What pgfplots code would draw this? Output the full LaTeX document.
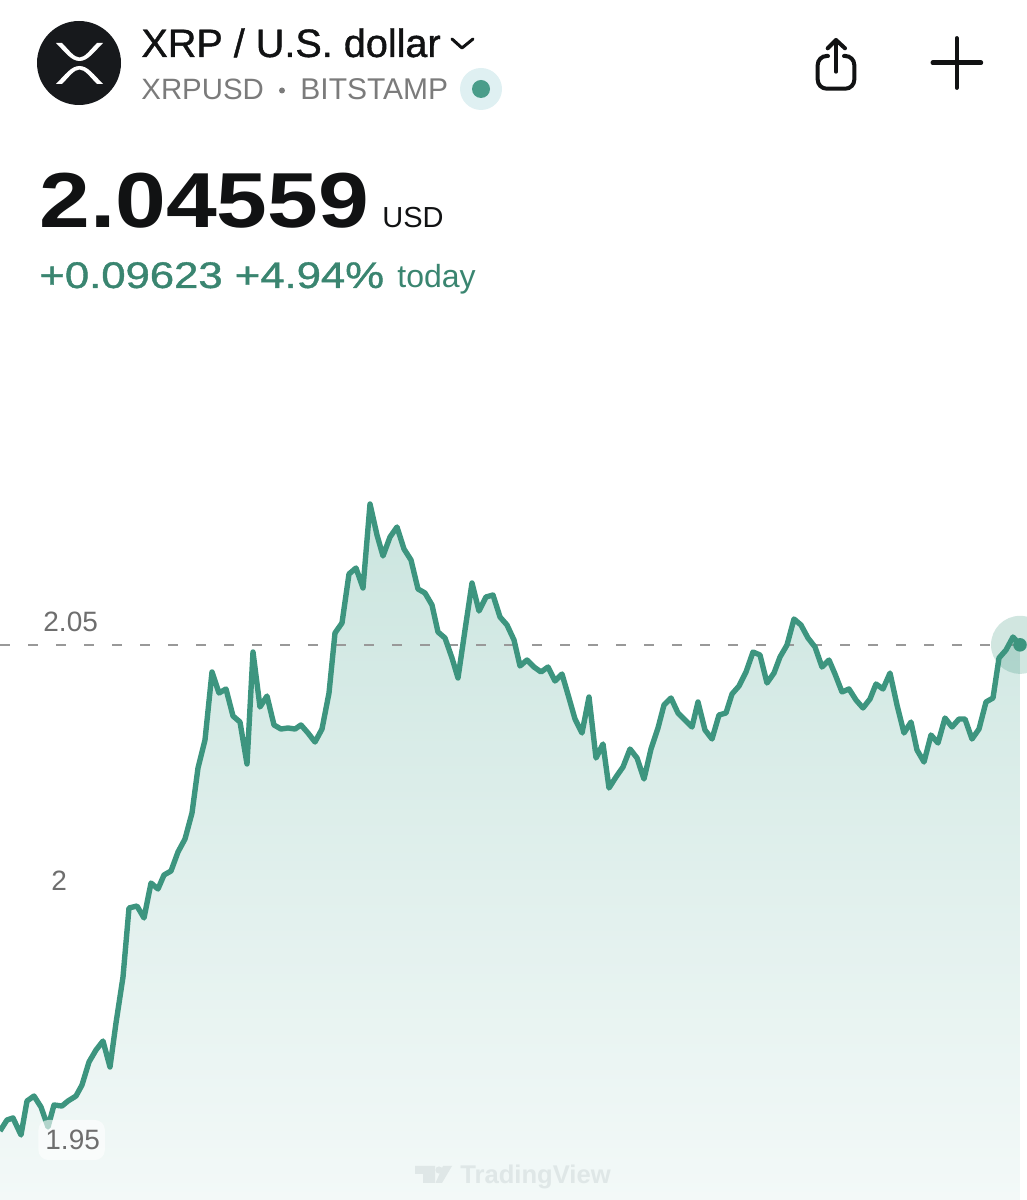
\documentclass[border=0pt]{standalone}
\usepackage{fontspec}
\setmainfont{Liberation Sans}
\usepackage{graphicx}
\usepackage{pgfplots}
\usepackage{pgfplotstable}
\pgfplotsset{compat=1.18}
\definecolor{lineteal}{HTML}{3D957F}
\definecolor{filltop}{HTML}{CBE5DF}
\definecolor{fillbot}{HTML}{F3F9F8}
\definecolor{upgreen}{HTML}{3A8570}
\definecolor{ticktxt}{HTML}{6E6E6E}
\definecolor{subtxt}{HTML}{7B7B7B}
\definecolor{headtxt}{HTML}{111213}
\definecolor{logobg}{HTML}{17191C}
\definecolor{wmark}{HTML}{DFE7E7}
\definecolor{livehalo}{HTML}{DFF0F2}
\definecolor{livedot}{HTML}{4A9D8A}
\newfontfamily\medfont[FakeBold=1]{Liberation Sans}

% x is the pixel column of the bar, y the price
\pgfplotstableread{
x y
0 1.95174
7 1.95386
13 1.95425
21 1.95097
27 1.95753
34 1.95849
41 1.95637
48 1.95251
54 1.95676
62 1.95656
68 1.95753
76 1.95849
82 1.96062
89 1.96506
96 1.96737
103 1.96911
110 1.96409
116 1.97259
123 1.98147
129 1.99479
137 1.99517
144 1.99286
151 1.99961
158 1.99846
164 2.00116
171 2.00193
178 2.00560
185 2.00811
192 2.01313
198 2.02181
205 2.02722
212 2.04035
219 2.03629
226 2.03707
233 2.03185
240 2.03069
247 2.02259
253 2.04421
260 2.03359
267 2.03571
274 2.03012
281 2.02934
288 2.02954
295 2.02934
301 2.03012
308 2.02857
315 2.02683
322 2.02934
329 2.03629
335 2.04788
342 2.04981
349 2.05927
356 2.06042
363 2.05656
370 2.07278
377 2.06680
383 2.06274
390 2.06641
397 2.06834
404 2.06409
411 2.06197
418 2.05637
425 2.05560
432 2.05328
438 2.04807
445 2.04691
452 2.04305
458 2.03919
465 2.04846
472 2.05753
479 2.05212
486 2.05483
493 2.05521
500 2.05097
507 2.04942
514 2.04653
520 2.04151
527 2.04266
534 2.04131
541 2.04035
548 2.04131
555 2.03861
562 2.03996
569 2.03533
575 2.03127
582 2.02857
589 2.03552
596 2.02375
603 2.02645
609 2.01795
616 2.02008
623 2.02201
630 2.02548
637 2.02375
644 2.01969
651 2.02548
658 2.02954
664 2.03398
671 2.03533
678 2.03243
685 2.03108
692 2.02973
698 2.03456
705 2.02915
712 2.02741
719 2.03205
726 2.03243
732 2.03610
739 2.03764
746 2.04035
753 2.04421
760 2.04363
767 2.03822
774 2.04015
780 2.04324
787 2.04556
794 2.05058
801 2.04942
808 2.04691
815 2.04517
822 2.04131
829 2.04266
835 2.03996
842 2.03649
849 2.03707
856 2.03494
863 2.03340
870 2.03514
876 2.03803
883 2.03707
890 2.04015
897 2.03398
904 2.02857
911 2.03069
917 2.02529
924 2.02297
931 2.02819
938 2.02664
945 2.03147
952 2.02973
959 2.03127
965 2.03127
972 2.02741
979 2.02934
986 2.03456
993 2.03533
999 2.04305
1006 2.04459
1013 2.04710
1020 2.04559
}\pricetable

\begin{document}
\begin{tikzpicture}
\useasboundingbox (0,0) rectangle (513.5pt,600pt);
\begin{axis}[
  at={(0,0)}, anchor=south west,
  scale only axis,
  width=513.5pt, height=600pt,
  xmin=0, xmax=1027,
  ymin=1.938417, ymax=2.170077,
  axis line style={draw=none},
  axis on top,
  xtick=\empty,
  ytick={1.95,2,2.05},
  yticklabels={{\hspace{1pt}1.95},{\hspace{4pt}2},{2.05}},
  major tick length=0pt,
  y tick label style={anchor=west, xshift=19pt, text=ticktxt,
    font=\fontsize{14}{14}\selectfont, fill=white, fill opacity=0.6, text opacity=1,
    rounded corners=5pt, inner xsep=2.5pt, minimum height=20pt},
]
  \addplot[draw=none, top color=filltop, bottom color=fillbot] table[x=x,y=y] {\pricetable} \closedcycle;
  \addplot[forget plot, color=gray!80, line width=0.75pt, dash pattern=on 4.75pt off 9.25pt] coordinates {(0,2.04559) (1027,2.04559)};
  \addplot[color=lineteal, line width=2.7pt, line join=round, no marks] table[x=x,y=y] {\pricetable};
  \addplot[only marks, mark=*, mark size=14.5pt, mark options={draw opacity=0, fill=lineteal, fill opacity=0.24}] coordinates {(1020,2.04559)};
  \addplot[only marks, mark=*, mark size=3.4pt, mark options={draw opacity=0, fill=lineteal}] coordinates {(1020,2.04559)};
\end{axis}
% header and icons, in reference pixels
\begin{scope}[shift={(0,600pt)}, x=0.5pt, y=-0.5pt]
  \fill[logobg] (79,63) circle (42);
  \fill[white] (56,43) -- (62,43) .. controls (69,50) and (74,57.5) .. (79.5,57.5) .. controls (85,57.5) and (90,50) .. (97,43) -- (103,43) .. controls (94,52) and (88,61) .. (79.5,61) .. controls (71,61) and (65,52) .. (56,43) -- cycle;
  \fill[white] (56,84) -- (62,84) .. controls (69,77) and (74,69.5) .. (79.5,69.5) .. controls (85,69.5) and (90,77) .. (97,84) -- (103,84) .. controls (94,75) and (88,66) .. (79.5,66) .. controls (71,66) and (65,75) .. (56,84) -- cycle;
  \node[anchor=base west, inner sep=0, text=headtxt, font=\medfont\fontsize{19.8}{20}\selectfont] at (141,57) {XRP / U.S. dollar};
  \draw[headtxt, line width=1.5pt, line cap=round, line join=round] (452,39) -- (462,48) -- (473,39);
  \node[anchor=base west, inner sep=0, text=subtxt, font=\fontsize{14.7}{16}\selectfont] at (141,100) {XRPUSD};
  \fill[subtxt] (282,90.5) circle (3);
  \node[anchor=base west, inner sep=0, text=subtxt, font=\fontsize{15}{16}\selectfont] at (300,100) {BITSTAMP};
  \fill[livehalo] (481,89) circle (21);
  \fill[livedot] (481,89) circle (9);
  \node[anchor=base west, inner sep=0, text=headtxt] at (39,228) {\scalebox{1.17}[1]{\fontsize{39}{40}\bfseries\selectfont 2.04559}};
  \node[anchor=base west, inner sep=0, text=headtxt, font=\fontsize{14.5}{15}\selectfont] at (382,228) {USD};
  \node[anchor=base west, inner sep=0, text=upgreen] at (39,288) {\scalebox{1.18}[1]{\medfont\fontsize{18.5}{19}\selectfont +0.09623 +4.94\%}};
  \node[anchor=base west, inner sep=0, text=upgreen, font=\fontsize{16}{17}\selectfont] at (397,288) {today};
  % share icon
  \draw[headtxt, line width=2pt, line cap=round, rounded corners=4.5pt] (828,56) -- (817.7,56) -- (817.7,88.7) -- (854.3,88.7) -- (854.3,56) -- (844,56);
  \draw[headtxt, line width=2pt, line cap=round] (836,71.7) -- (836,40);
  \draw[headtxt, line width=2pt, line cap=round, line join=round] (827.7,48.3) -- (836,40) -- (845,48.3);
  % plus
  \draw[headtxt, line width=2.2pt, line cap=round] (932.7,62.7) -- (981,62.7) (956.7,38.3) -- (956.7,87.7);
  % watermark
  \fill[wmark] (415,1166) -- (435,1166) -- (435,1183) -- (423,1183) -- (423,1174) -- (415,1174) -- cycle;
  \fill[wmark] (439,1170) circle (3.6);
  \fill[wmark] (443,1166) -- (452,1166) -- (442,1183) -- (435.5,1183) -- cycle;
  \node[anchor=base west, inner sep=0, text=wmark, font=\fontsize{12.8}{14}\bfseries\selectfont] at (460,1183) {TradingView};
\end{scope}
\end{tikzpicture}
\end{document}
